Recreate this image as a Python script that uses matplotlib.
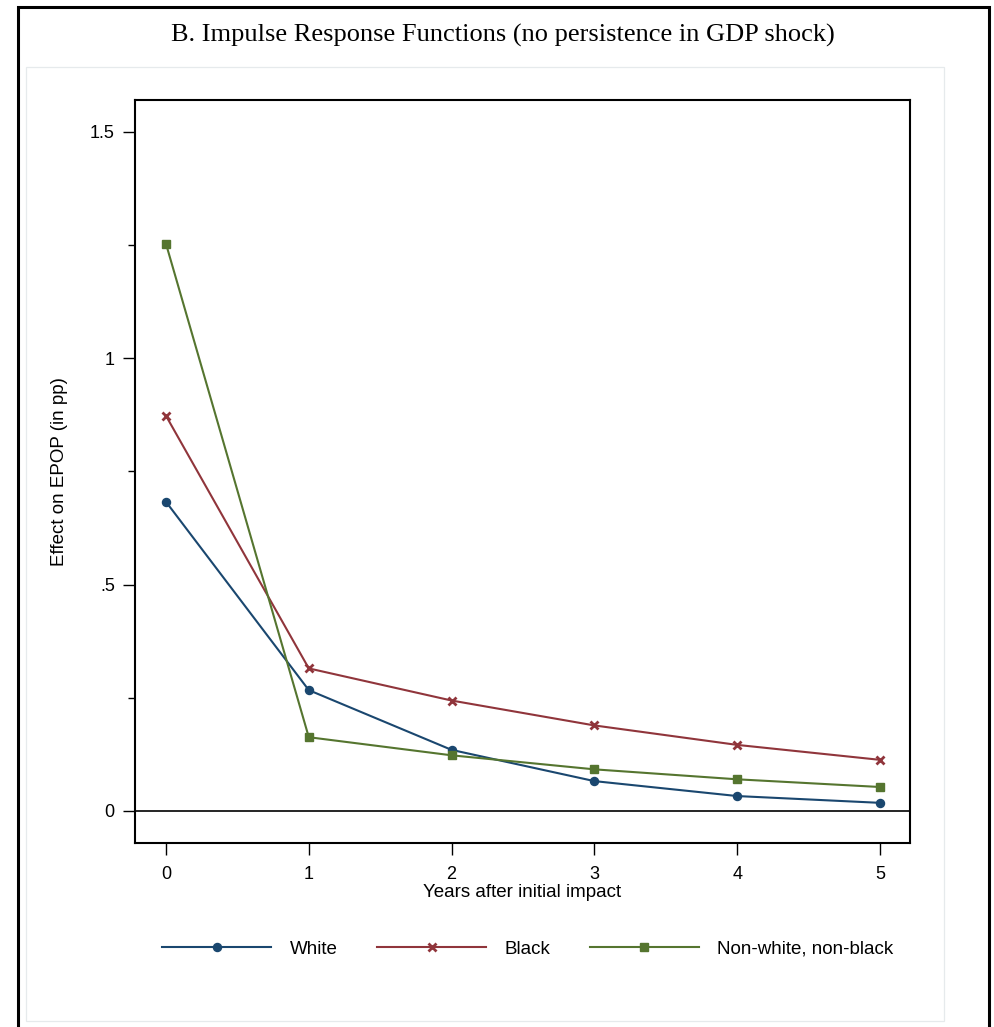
"""
Impulse response functions, panel B (no persistence in GDP shock).
"""

import numpy as np
import matplotlib
matplotlib.use("Agg")
import matplotlib.pyplot as plt
from matplotlib.patches import Rectangle

# data
years = [0, 1, 2, 3, 4, 5]
white = [0.683, 0.267, 0.135, 0.066, 0.033, 0.018]
black = [0.873, 0.315, 0.244, 0.189, 0.146, 0.113]
other = [1.253, 0.163, 0.123, 0.092, 0.070, 0.053]
series_labels = ["White", "Black", "Non-white, non-black"]
y_ticks = [0, 0.5, 1, 1.5]
y_ticklabels = ["0", ".5", "1", "1.5"]
y_minor = [0.25, 0.75, 1.25]

# Stata s2color
c_white = "#1a476f"
c_black = "#90353b"
c_other = "#55752f"

plt.rcParams["font.family"] = ["Liberation Sans", "DejaVu Sans"]

fig = plt.figure(figsize=(9.94, 10.27), dpi=100)
W, H = 994, 1027

# outer black frame (bottom edge falls outside the image)
fig.patches.append(Rectangle((17.5 / W, -0.05), (988.5 - 17.5) / W, 1.05 - 6.5 / H,
                             transform=fig.transFigure, fill=False,
                             edgecolor="black", linewidth=2.2))
# light inner plot region
fig.patches.append(Rectangle((26 / W, 1 - 1020.5 / H), (944 - 26) / W, (1020.5 - 67) / H,
                             transform=fig.transFigure, fill=False,
                             edgecolor="#e6eaec", linewidth=0.9))

fig.text(503 / W, 1 - 35 / H,
         "B. Impulse Response Functions (no persistence in GDP shock)",
         ha="center", va="center", fontsize=19, family="Liberation Serif")

ax = fig.add_axes([135 / W, 1 - 843 / H, (910 - 135) / W, (843 - 100) / H])

ax.axhline(0, color="black", linewidth=1.2, zorder=1)

ax.plot(years, white, color=c_white, linewidth=1.5, marker="o", markersize=5.8,
        label=series_labels[0], zorder=3)
ax.plot(years, black, color=c_black, linewidth=1.5, marker="x", markersize=5.5,
        markeredgewidth=2.0, label=series_labels[1], zorder=3)
ax.plot(years, other, color=c_other, linewidth=1.5, marker="s", markersize=6.3,
        label=series_labels[2], zorder=3)

ax.set_xlim(-0.217, 5.21)
ax.set_ylim(-0.0707, 1.5706)
ax.set_xticks(years)
ax.set_yticks(y_ticks)
ax.set_yticklabels(y_ticklabels)
ax.set_yticks(y_minor, minor=True)

ax.tick_params(axis="both", which="major", length=8.5, width=1, labelsize=13,
               colors="black", pad=6)
ax.tick_params(axis="y", which="minor", length=5, width=1)
ax.tick_params(axis="x", pad=8)

ax.set_xlabel("Years after initial impact", fontsize=13.5, labelpad=1)
ax.set_ylabel("Effect on EPOP (in pp)", fontsize=13.5, labelpad=16)

for spine in ax.spines.values():
    spine.set_linewidth(1.5)
    spine.set_color("black")

handles, labels = ax.get_legend_handles_labels()
fig.legend(handles, labels, loc="center", bbox_to_anchor=(528 / W, 1 - 949 / H),
           ncol=3, frameon=False, fontsize=13.5, handlelength=5.8,
           handletextpad=1.0, columnspacing=2.1)

fig.savefig("out.png", dpi=100)
plt.close(fig)
